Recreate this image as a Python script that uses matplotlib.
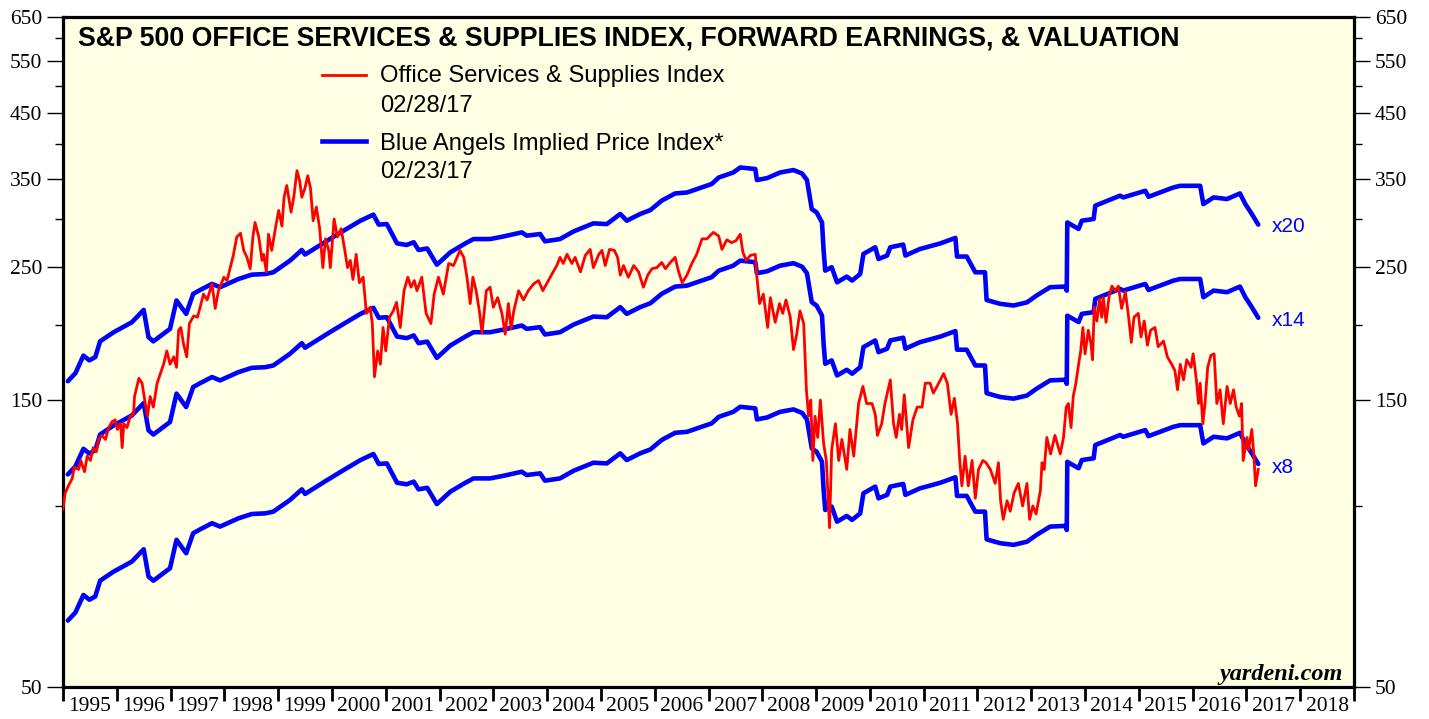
import numpy as np
import matplotlib
matplotlib.use("Agg")
import matplotlib.pyplot as plt
from matplotlib.ticker import FixedLocator, FixedFormatter, NullFormatter

# dates are given in hundredths of a year after 1 Jan 1995
office_t = [0, 4, 10, 17, 21, 29, 33, 40, 45, 51, 56, 62, 66,
            72, 79, 85, 91, 97, 101, 107, 110, 113, 119, 125, 131, 133,
            141, 147, 153, 157, 162, 168, 175, 181, 187, 193, 199, 206, 211,
            215, 219, 224, 230, 235, 243, 250, 255, 261, 268, 277, 283, 289,
            299, 305, 311, 317, 323, 330, 336, 342, 348, 353, 357, 364, 370,
            373, 378, 382, 388, 395, 401, 407, 411, 416, 424, 429, 435, 440,
            444, 450, 455, 460, 465, 471, 477, 483, 488, 494, 497, 504, 510,
            517, 523, 529, 534, 539, 545, 551, 558, 564, 571, 575, 579, 585,
            590, 595, 600, 607, 614, 620, 627, 634, 641, 647, 653, 658, 667,
            675, 684, 690, 698, 707, 717, 726, 735, 738, 745, 751, 757, 762,
            768, 774, 779, 787, 794, 800, 808, 816, 822, 828, 833, 838, 847,
            856, 865, 875, 884, 892, 900, 909, 918, 924, 930, 937, 946, 952,
            962, 971, 980, 986, 996, 1002, 1008, 1016, 1025, 1031, 1036, 1042, 1051,
            1061, 1070, 1079, 1087, 1095, 1104, 1113, 1120, 1129, 1138, 1144, 1151, 1160,
            1169, 1178, 1188, 1197, 1209, 1219, 1225, 1234, 1243, 1251, 1259, 1264, 1270,
            1278, 1287, 1290, 1295, 1302, 1310, 1315, 1324, 1332, 1338, 1344, 1352, 1358,
            1364, 1370, 1377, 1382, 1386, 1390, 1394, 1398, 1403, 1408, 1414, 1419, 1425,
            1429, 1436, 1442, 1448, 1457, 1463, 1470, 1479, 1487, 1494, 1504, 1510, 1514,
            1522, 1528, 1538, 1544, 1549, 1555, 1559, 1564, 1572, 1580, 1588, 1597, 1603,
            1612, 1618, 1628, 1637, 1644, 1651, 1657, 1663, 1667, 1671, 1677, 1683, 1690,
            1696, 1702, 1710, 1716, 1724, 1733, 1739, 1743, 1748, 1755, 1761, 1768, 1776,
            1784, 1792, 1797, 1803, 1809, 1817, 1820, 1824, 1829, 1836, 1844, 1854, 1860,
            1865, 1869, 1874, 1878, 1883, 1888, 1892, 1896, 1900, 1906, 1911, 1914, 1917,
            1922, 1927, 1931, 1934, 1939, 1945, 1950, 1956, 1962, 1968, 1975, 1981, 1986,
            1991, 1999, 2004, 2010, 2016, 2022, 2030, 2036, 2046, 2053, 2061, 2067, 2072,
            2077, 2083, 2089, 2097, 2101, 2107, 2111, 2114, 2119, 2123, 2128, 2134, 2140,
            2145, 2151, 2157, 2164, 2170, 2176, 2181, 2187, 2191, 2194, 2201, 2204, 2210,
            2214, 2217, 2222]
office_index = [99, 105, 108, 111, 116, 115, 119, 114, 121, 119, 125, 123, 129,
                131, 129, 135, 138, 139, 134, 137, 125, 137, 135, 141, 142, 152,
                163, 160, 148, 141, 152, 146, 160, 166, 172, 181, 172, 177, 170,
                196, 198, 186, 177, 201, 207, 206, 214, 225, 220, 234, 213, 228,
                240, 237, 249, 262, 280, 284, 266, 259, 248, 280, 296, 280, 256,
                262, 245, 283, 266, 290, 310, 292, 326, 341, 308, 326, 361, 347,
                326, 338, 354, 338, 298, 314, 290, 249, 278, 266, 249, 300, 280,
                289, 269, 249, 256, 238, 262, 235, 240, 209, 214, 201, 164, 181,
                172, 198, 181, 206, 211, 218, 198, 228, 240, 231, 237, 228, 240,
                209, 201, 225, 240, 225, 253, 251, 262, 266, 259, 240, 217, 240,
                228, 211, 194, 228, 231, 214, 222, 209, 193, 217, 197, 211, 228,
                220, 228, 234, 237, 228, 235, 243, 251, 259, 253, 262, 253, 259,
                245, 261, 267, 249, 262, 266, 251, 267, 266, 259, 242, 251, 240,
                251, 245, 231, 242, 248, 249, 254, 248, 254, 259, 246, 235, 242,
                253, 262, 278, 278, 285, 281, 267, 277, 274, 276, 283, 264, 256,
                261, 262, 240, 217, 225, 198, 222, 202, 217, 209, 220, 206, 182,
                193, 211, 201, 156, 141, 150, 119, 141, 130, 150, 127, 119, 92,
                124, 137, 119, 129, 115, 134, 121, 148, 158, 148, 148, 142, 131,
                137, 148, 162, 137, 130, 142, 134, 153, 125, 139, 146, 146, 160,
                160, 154, 160, 166, 160, 142, 151, 137, 119, 108, 121, 108, 119,
                103, 115, 119, 118, 115, 109, 118, 102, 95, 102, 98, 105, 109,
                100, 109, 95, 100, 97, 106, 118, 115, 130, 122, 131, 122, 130,
                146, 148, 135, 152, 160, 172, 181, 198, 179, 196, 186, 175, 214,
                203, 221, 206, 222, 202, 224, 232, 228, 232, 213, 227, 206, 187,
                206, 209, 191, 203, 185, 196, 198, 184, 188, 177, 172, 168, 156,
                172, 162, 175, 170, 179, 162, 148, 160, 137, 148, 170, 178, 179,
                148, 156, 137, 158, 148, 156, 146, 141, 148, 119, 130, 124, 134,
                121, 108, 115]

earn_t = [9, 23, 38, 49, 60, 69, 94, 128, 150, 159, 168, 199, 211, 229, 242, 255,
          277, 292, 326, 351, 376, 391, 422, 444, 450, 491, 525, 553, 577, 587, 602,
          621, 639, 652, 661, 677, 695, 720, 748, 763, 794, 819, 853, 862, 887, 896,
          924, 949, 986, 1011, 1036, 1048, 1073, 1092, 1113, 1138, 1160, 1206, 1219,
          1246, 1259, 1287, 1290, 1309, 1333, 1358, 1374, 1383, 1392, 1401, 1411, 1414,
          1417, 1429, 1439, 1457, 1467, 1482, 1488, 1510, 1516, 1532, 1538, 1562, 1566,
          1593, 1631, 1659, 1662, 1680, 1696, 1714, 1717, 1742, 1767, 1792, 1810, 1835,
          1863, 1866, 1867, 1888, 1894, 1916, 1919, 1965, 1971, 2012, 2018, 2064, 2077,
          2114, 2120, 2139, 2164, 2188, 2198, 2210, 2222]
fwd_earnings = [8.06, 8.31, 8.89, 8.73, 8.84, 9.39, 9.72, 10.10, 10.59, 9.54, 9.39, 9.85,
                10.98, 10.43, 11.26, 11.43, 11.70, 11.55, 11.92, 12.12, 12.15, 12.23,
                12.79, 13.32, 13.09, 13.80, 14.40, 14.90, 15.25, 14.68, 14.71, 13.66,
                13.58, 13.72, 13.32, 13.40, 12.59, 13.20, 13.66, 13.89, 13.89, 14.03,
                14.25, 14.07, 14.16, 13.77, 13.89, 14.30, 14.75, 14.71, 15.29, 14.90,
                15.29, 15.52, 16.09, 16.54, 16.60, 17.15, 17.58, 17.92, 18.27, 18.16,
                17.41, 17.54, 17.92, 18.09, 17.85, 17.41, 15.58, 15.38, 14.80, 13.29,
                12.31, 12.47, 11.77, 12.03, 11.85, 12.15, 13.12, 13.46, 12.87, 13.04,
                13.46, 13.60, 13.04, 13.37, 13.66, 13.95, 12.99, 12.99, 12.23, 12.23,
                11.00, 10.84, 10.77, 10.90, 11.19, 11.55, 11.58, 11.40, 14.80, 14.44,
                14.90, 15.00, 15.78, 16.40, 16.29, 16.71, 16.33, 16.92, 17.03, 17.03,
                15.88, 16.29, 16.19, 16.54, 15.88, 15.29, 14.68]
multiples = [20, 14, 8]

y_major = [50, 150, 250, 350, 450, 550, 650]
y_minor = [100, 200, 300, 400, 500, 600]
years = list(range(1995, 2019))

W, H = 1429, 719
fig = plt.figure(figsize=(W / 100, H / 100), dpi=100)
ax = fig.add_axes([63 / W, 1 - 687 / H, 1291 / W, 670 / H])
ax.set_facecolor("#FFFFE3")

ot = 1995 + np.array(office_t) / 100
et = 1995 + np.array(earn_t) / 100
eps = np.array(fwd_earnings)
for m in multiples:
    ax.plot(et, m * eps, color="#0000FF", lw=3.3, solid_capstyle="round", zorder=2)
ax.plot(ot, office_index, color="#FF0000", lw=2.0, zorder=3)

ax.set_yscale("log")
ax.set_ylim(50, 650)
ax.set_xlim(1995, 2019)

serif = "Liberation Serif"
ax.yaxis.set_major_locator(FixedLocator(y_major))
ax.yaxis.set_major_formatter(FixedFormatter([str(v) for v in y_major]))
ax.yaxis.set_minor_locator(FixedLocator(y_minor))
ax.yaxis.set_minor_formatter(NullFormatter())
ax.tick_params(axis="y", which="major", length=11.5, width=1, pad=3.5,
               left=True, right=True, labelleft=True, labelright=True, labelsize=15.5)
ax.tick_params(axis="y", which="minor", length=5.5, width=1, left=True, right=True)

ax.xaxis.set_major_locator(FixedLocator(years + [2019]))
ax.xaxis.set_major_formatter(NullFormatter())
ax.xaxis.set_minor_locator(FixedLocator([y + 0.5 for y in years]))
ax.xaxis.set_minor_formatter(FixedFormatter([str(y) for y in years]))
ax.tick_params(axis="x", which="major", length=10, width=2, direction="out")
ax.tick_params(axis="x", which="minor", length=0, pad=7, labelsize=15.5)
for lab in ax.get_xticklabels(minor=True):
    lab.set_family(serif)
for t in ax.yaxis.get_major_ticks():
    t.label1.set_family(serif)
    t.label2.set_family(serif)

for s in ax.spines.values():
    s.set_linewidth(2.3)


def px(x, y):
    return x / W, 1 - y / H


sans = "Liberation Sans"
fig.text(*px(78, 45), "S&P 500 OFFICE SERVICES & SUPPLIES INDEX, FORWARD EARNINGS, & VALUATION",
         family=sans, weight="bold", fontsize=19.3, va="baseline")

fig.add_artist(plt.Line2D([322 / W, 366 / W], [1 - 75 / H] * 2, color="#FF0000", lw=2.0))
fig.add_artist(plt.Line2D([322 / W, 366 / W], [1 - 141 / H] * 2, color="#0000FF", lw=3.3))
fig.text(*px(380, 82), "Office Services & Supplies Index", family=sans, fontsize=17.1, va="baseline")
fig.text(*px(380, 112), "02/28/17", family=sans, fontsize=17.1, va="baseline")
fig.text(*px(380, 150), "Blue Angels Implied Price Index*", family=sans, fontsize=17.1, va="baseline")
fig.text(*px(380, 178.5), "02/23/17", family=sans, fontsize=17.1, va="baseline")

for m, yb in zip(multiples, [231.5, 325.5, 473]):
    fig.text(*px(1272, yb), "x%d" % m, family=sans, fontsize=15, color="#0000FF", va="baseline")

fig.text(*px(1343, 680), "yardeni.com", family=serif, weight="bold", style="italic",
         fontsize=17.5, ha="right", va="baseline")

fig.savefig("out.png", dpi=100, facecolor="white")
